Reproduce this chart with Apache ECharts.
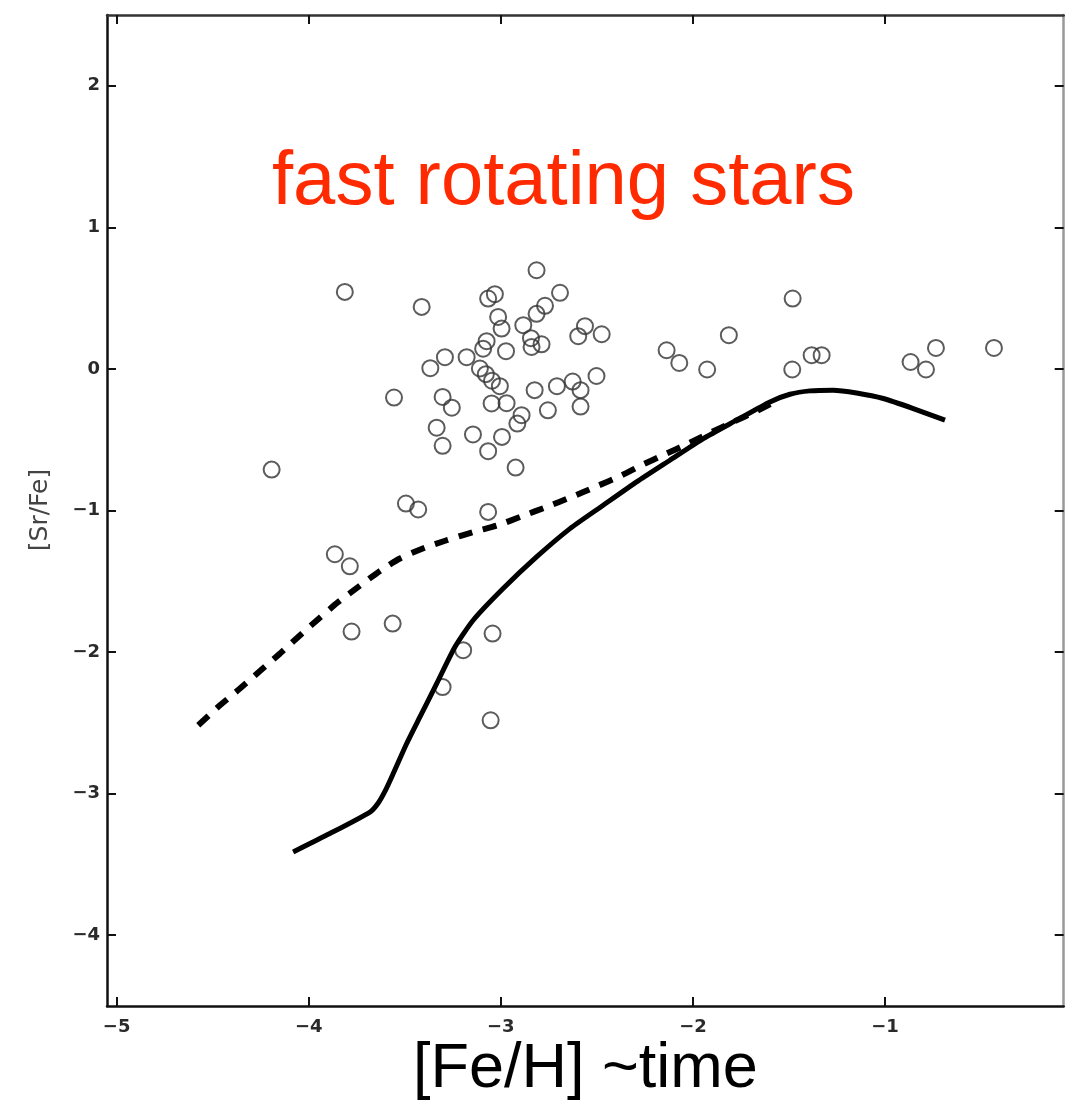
<!DOCTYPE html>
<html>
<head>
<meta charset="utf-8">
<script src="https://cdn.jsdelivr.net/npm/echarts@6/dist/echarts.min.js"></script>
<style>
  html, body { margin: 0; padding: 0; background: #fff; }
  #chart { width: 1065px; height: 1105px; }
</style>
</head>
<body>
<div id="chart"></div>
<script>
// Axis tick positions
const xTicks = [-5, -4, -3, -2, -1];
const yTicks = [-4, -3, -2, -1, 0, 1, 2];

// Observed halo stars: [Fe/H] and [Sr/Fe]
const starFeH = [
  -3.812, -3.412, -2.814, -3.031, -3.066, -2.692, -2.770, -2.814, -3.014, -2.996,
  -2.883, -2.562, -2.597, -2.475, -2.843, -2.788, -2.840, -3.074, -3.092, -2.973,
  -3.291, -3.367, -3.178, -3.109, -3.078, -3.046, -3.005, -2.824, -2.708, -2.626,
  -2.502, -2.585, -2.585, -3.556, -3.303, -3.255, -3.048, -2.970, -2.755, -2.892,
  -2.914, -3.334, -3.303, -3.145, -2.994, -3.066, -2.923, -4.193, -3.494, -3.430,
  -3.066, -3.864, -3.786, -3.777, -3.563, -3.196, -3.043, -3.303, -3.053, -1.481,
  -1.813, -2.137, -2.071, -1.926, -1.483, -1.382, -1.330, -0.867, -0.787, -0.735,
  -0.433
];
const starSrFe = [
  0.544, 0.438, 0.697, 0.528, 0.497, 0.538, 0.446, 0.389, 0.367, 0.285,
  0.309, 0.302, 0.231, 0.245, 0.217, 0.174, 0.155, 0.196, 0.143, 0.125,
  0.083, 0.005, 0.083, 0.003, -0.037, -0.083, -0.122, -0.150, -0.122, -0.089,
  -0.050, -0.150, -0.266, -0.202, -0.198, -0.274, -0.244, -0.242, -0.292, -0.327,
  -0.386, -0.415, -0.543, -0.463, -0.480, -0.581, -0.697, -0.711, -0.951, -0.993,
  -1.010, -1.309, -1.394, -1.855, -1.799, -1.987, -1.869, -2.247, -2.482, 0.497,
  0.238, 0.132, 0.042, -0.004, -0.004, 0.097, 0.097, 0.049, -0.004, 0.148,
  0.148
];

// Chemical evolution model (solid curve)
const modelFeH = [
  -4.081, -3.890, -3.681, -3.640, -3.600, -3.560, -3.490, -3.421, -3.334, -3.239,
  -3.144, -2.988, -2.814, -2.640, -2.467, -2.293, -2.120, -1.946, -1.773, -1.599,
  -1.495, -1.391, -1.270, -1.148, -1.009, -0.853, -0.688
];
const modelSrFe = [
  -3.412, -3.282, -3.130, -3.070, -2.975, -2.858, -2.646, -2.458, -2.223, -1.964,
  -1.775, -1.551, -1.328, -1.128, -0.963, -0.798, -0.645, -0.492, -0.362, -0.233,
  -0.179, -0.155, -0.150, -0.170, -0.209, -0.280, -0.362
];

// Model including fast rotating stars (dashed curve)
const rotFeH = [
  -4.575, -4.462, -4.358, -4.254, -4.150, -4.055, -3.951, -3.846, -3.742, -3.629,
  -3.525, -3.395, -3.282, -3.144, -3.014, -2.892, -2.762, -2.631, -2.510, -2.380,
  -2.267, -2.146, -2.024, -1.912, -1.790, -1.668, -1.547
];
const rotSrFe = [
  -2.517, -2.376, -2.258, -2.134, -2.011, -1.893, -1.768, -1.646, -1.540, -1.427,
  -1.339, -1.262, -1.210, -1.152, -1.104, -1.041, -0.975, -0.904, -0.834, -0.758,
  -0.680, -0.603, -0.527, -0.452, -0.374, -0.297, -0.214
];

const pairs = (xs, ys) => xs.map((x, i) => [x, ys[i]]);
const minus = v => String(v).replace('-', '\u2212');

const tickFont = { fontFamily: 'DejaVu Sans', fontSize: 18, fontWeight: 'bold', color: '#2a2a2a' };

function xAxisCfg(pos, labels, lineColor) {
  return {
    type: 'value', position: pos, min: -5.05, max: -0.07,
    axisLine: { show: true, onZero: false, lineStyle: { color: lineColor, width: 2.5 } },
    axisTick: { show: true, inside: true, length: 9, customValues: xTicks,
                lineStyle: { color: '#111', width: 2 } },
    axisLabel: labels
      ? Object.assign({ show: true, margin: 12, customValues: xTicks, formatter: minus }, tickFont)
      : { show: false },
    splitLine: { show: false }
  };
}
function yAxisCfg(pos, labels, lineColor) {
  return {
    type: 'value', position: pos, min: -4.5, max: 2.5,
    axisLine: { show: true, onZero: false, lineStyle: { color: lineColor, width: 2.5 } },
    axisTick: { show: true, inside: true, length: 9, customValues: yTicks,
                lineStyle: { color: '#111', width: 2 } },
    axisLabel: labels
      ? Object.assign({ show: true, margin: 7, customValues: yTicks, formatter: minus }, tickFont)
      : { show: false },
    splitLine: { show: false }
  };
}

const chart = echarts.init(document.getElementById('chart'), null, { renderer: 'canvas' });
chart.setOption({
  animation: false,
  backgroundColor: '#fff',
  grid: { left: 107, top: 15, width: 956.7, height: 991, containLabel: false },
  xAxis: [xAxisCfg('bottom', true, '#111'), xAxisCfg('top', false, '#333')],
  yAxis: [yAxisCfg('left', true, '#111'), yAxisCfg('right', false, '#999')],
  series: [
    {
      type: 'scatter', xAxisIndex: 0, yAxisIndex: 0,
      data: pairs(starFeH, starSrFe),
      symbol: 'circle', symbolSize: 16,
      itemStyle: { color: 'rgba(0,0,0,0)', borderColor: '#333', borderWidth: 2 },
      silent: true
    },
    {
      type: 'line', xAxisIndex: 0, yAxisIndex: 0,
      data: pairs(modelFeH, modelSrFe),
      showSymbol: false, smooth: 0.2,
      lineStyle: { color: '#000', width: 5 },
      silent: true
    },
    {
      type: 'line', xAxisIndex: 0, yAxisIndex: 0,
      data: pairs(rotFeH, rotSrFe),
      showSymbol: false, smooth: 0.25,
      lineStyle: { color: '#000', width: 6, type: [14, 11], cap: 'butt' },
      silent: true
    }
  ],
  graphic: [
    {
      type: 'text', x: 272, y: 183, silent: true,
      style: { text: 'fast rotating stars', fill: '#ff2a00',
               font: '76px "Liberation Sans", Arial, sans-serif',
               align: 'left', verticalAlign: 'middle' }
    },
    {
      type: 'text', x: 413, y: 1070, silent: true,
      style: { text: '[Fe/H] ~time', fill: '#000',
               font: '63px "Liberation Sans", Arial, sans-serif',
               align: 'left', verticalAlign: 'middle' }
    },
    {
      type: 'text', x: 40, y: 510, rotation: Math.PI / 2, silent: true,
      style: { text: '[Sr/Fe]', fill: '#444',
               font: '25px "DejaVu Sans", sans-serif',
               align: 'center', verticalAlign: 'middle' }
    }
  ]
});
</script>
</body>
</html>
